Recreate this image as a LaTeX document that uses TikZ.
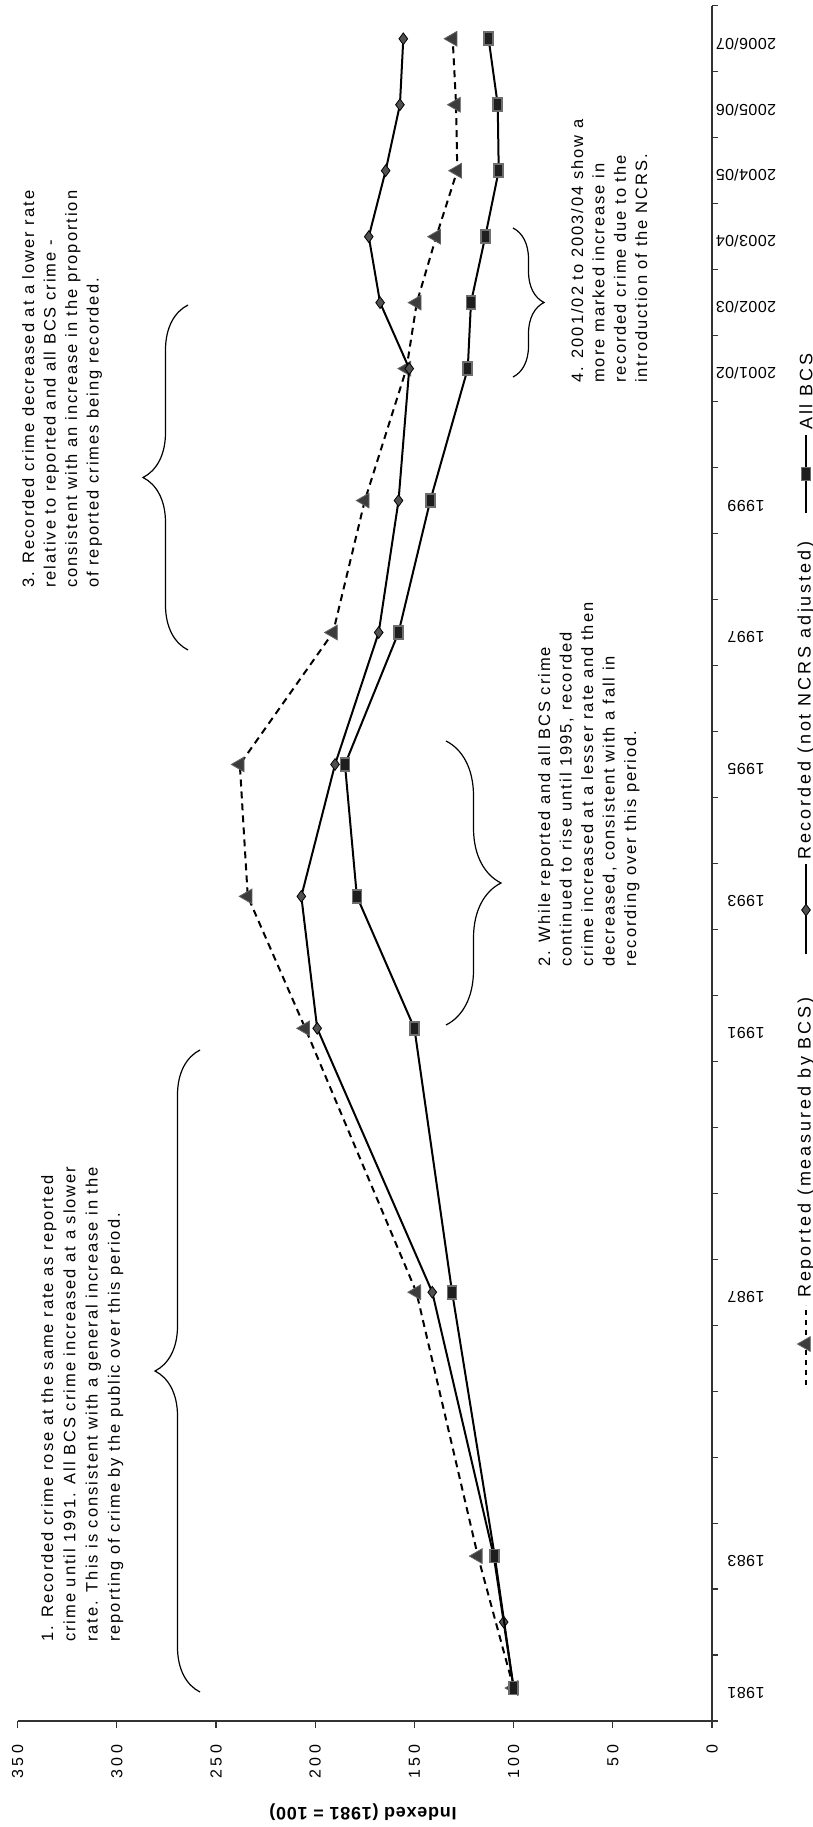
\documentclass[tikz,border=0pt]{standalone}
\usepackage{fontspec}
\setmainfont{Liberation Sans}
\newfontfamily\annfont[LetterSpace=12]{Liberation Sans}
\newfontfamily\legfont[LetterSpace=16]{Liberation Sans}
\newfontfamily\valfont[LetterSpace=25]{Liberation Sans}
\newfontfamily\yearfont[LetterSpace=3]{Liberation Sans}
\newfontfamily\titlefont[LetterSpace=4]{Liberation Sans}
\usetikzlibrary{decorations.pathreplacing,shapes.geometric}
\definecolor{axisgray}{HTML}{333333}
\definecolor{sqfill}{HTML}{1E1E1E}
\definecolor{sqedge}{HTML}{6E6E6E}
\definecolor{trifill}{HTML}{3C3C3C}
\definecolor{diafill}{HTML}{505050}
\tikzset{
  axisline/.style={draw=axisgray, line width=1.2pt},
  tickline/.style={draw=axisgray, line width=1.2pt},
  solidser/.style={draw=black, line width=2pt, line join=round},
  dashser/.style={draw=black, line width=2pt, dash pattern=on 7pt off 5pt},
  sqmark/.style={rectangle, minimum width=9pt, minimum height=13pt, inner sep=0pt, fill=sqfill, draw=sqedge, line width=1.6pt},
  trimark/.style={regular polygon, regular polygon sides=3, shape border rotate=90, minimum size=17pt, inner sep=0pt, fill=trifill, draw=trifill!80!white, line width=0.8pt},
  diamark/.style={diamond, minimum width=9pt, minimum height=12pt, inner sep=0pt, fill=diafill, draw=black, line width=0.8pt},
  annline/.style={rotate=90, anchor=base west, inner sep=0pt, font=\annfont\fontsize{16.5}{20}\selectfont},
  legtext/.style={rotate=90, anchor=west, inner sep=0pt, font=\legfont\fontsize{18}{21}\selectfont},
  yearlab/.style={rotate=180, inner sep=0pt, font=\yearfont\fontsize{16}{18}\selectfont},
  vallab/.style={rotate=90, anchor=east, inner sep=0pt, font=\valfont\fontsize{16}{18}\selectfont},
  bracedec/.style={draw=black, line width=1.2pt, decorate, decoration={brace, amplitude=#1}},
}
\begin{document}
\begin{tikzpicture}[x=1pt, y=-1pt]
\useasboundingbox[fill=white] (0,0) rectangle (813,1827);

% axes
\coordinate (corner) at (712,1721);
\coordinate (vleft) at (17.7,1721);
\coordinate (ytop) at (712,5.8);
\draw[axisline] (vleft) -- (corner) -- (ytop);
\foreach \v in {0,50,...,350} {
  \draw[tickline] ({712-1.984*\v},1721) -- ++(0,7);
  \node[vallab] (val\v) at ({712-1.984*\v},1744) {\v};
}
\foreach \i in {0,...,26} {
  \draw[tickline] (712,{1721-\i*65.97}) -- ++(6,0);
}
\foreach \i/\lab in {0/1981,2/1983,6/1987,10/1991,12/1993,14/1995,16/1997,18/1999,20/2001\slash 02,21/2002\slash 03,22/2003\slash 04,23/2004\slash 05,24/2005\slash 06,25/2006\slash 07} {
  \node[yearlab] (yr\i) at (746,{1721-(\i+0.5)*65.97+5}) {\lab};
}
\node[rotate=180, inner sep=0pt, font=\titlefont\bfseries\fontsize{18}{20}\selectfont] (ytitle) at (363,1812) {Indexed (1981 = 100)};

% data coordinates
\foreach \i/\v [count=\k] in {0/100,2/118,6/149,10/205,12/234,14/238,16/191,18/175,20/154,21/148.8,22/139,23/128.4,24/129,25/130.7}
  \coordinate (r\k) at ({712-1.984*\v},{1721-(\i+0.5)*65.97});
\foreach \i/\v [count=\k] in {0/100,1/105,2/110,6/141,10/199,12/207,14/190,16/168,18/158,20/152.6,21/167.3,22/173,23/164.5,24/157.3,25/155.6}
  \coordinate (c\k) at ({712-1.984*\v},{1721-(\i+0.5)*65.97});
\foreach \i/\v [count=\k] in {0/100,2/109.5,6/131,10/150,12/179,14/185,16/158,18/142,20/123.1,21/121.5,22/114.3,23/107.5,24/108,25/112.6}
  \coordinate (b\k) at ({712-1.984*\v},{1721-(\i+0.5)*65.97});

% reported
\draw[dashser] (r1) \foreach \k in {2,...,14} { -- (r\k) };
\foreach \k in {1,...,14} \node[trimark] (rm\k) at (r\k) {};
% recorded
\draw[solidser] (c1) \foreach \k in {2,...,15} { -- (c\k) };
\foreach \k in {1,...,15} \node[diamark] (cm\k) at (c\k) {};
% all BCS
\draw[solidser] (b1) \foreach \k in {2,...,14} { -- (b\k) };
\foreach \k in {1,...,14} \node[sqmark] (bm\k) at (b\k) {};

% annotations (one node per printed line)
\foreach \txt [count=\n] in {{1. Recorded crime rose at the same rate as reported},{crime  until 1991.  All BCS crime increased at a slower},{rate.  This is consistent with a general increase in the},{reporting of crime by the public over this period.}}
  \node[annline] (ta\n) at ({53+(\n-1)*22.3},1642) {\txt};
\foreach \txt [count=\n] in {{2. While reported and all BCS crime},{continued to rise until 1995, recorded},{crime increased at a lesser rate and then},{decreased, consistent with a fall in},{recording over this period.}}
  \node[annline] (tb\n) at ({550+(\n-1)*21.5},967) {\txt};
\foreach \txt [count=\n] in {{3. Recorded crime decreased at a lower rate},{relative to reported and all BCS crime -},{consistent with an increase in the proportion},{of reported crimes being recorded.}}
  \node[annline] (tc\n) at ({34+(\n-1)*21.5},588) {\txt};
\foreach \txt [count=\n] in {{4. 2001/02 to 2003/04 show a},{more marked increase in},{recorded crime due to the},{introduction of the NCRS.}}
  \node[annline] (td\n) at ({583+(\n-1)*21.4},383) {\txt};

% braces
\coordinate (b1s) at (200,1692); \coordinate (b1e) at (200,1050);
\draw[bracedec=45] (b1s) -- (b1e);
\coordinate (b2s) at (446,741); \coordinate (b2e) at (446,1025);
\draw[bracedec=55] (b2s) -- (b2e);
\coordinate (b3s) at (188,650); \coordinate (b3e) at (188,305);
\draw[bracedec=45] (b3s) -- (b3e);
\coordinate (b4s) at (513,228); \coordinate (b4e) at (513,377);
\draw[bracedec=31] (b4s) -- (b4e);

% legend
\coordinate (lr1) at (806,1385); \coordinate (lr2) at (806,1305);
\draw[dashser, line width=1.5pt, dash pattern=on 5pt off 5pt] (lr1) -- (lr2);
\node[trimark] (lrm) at (806,1344) {};
\node[legtext] (lrt) at (806,1298) {Reported (measured by BCS)};
\coordinate (lc1) at (806,954); \coordinate (lc2) at (806,864);
\draw[solidser, line width=1.5pt] (lc1) -- (lc2);
\node[diamark] (lcm) at (806,910) {};
\node[legtext] (lct) at (806,860) {Recorded (not NCRS adjusted)};
\coordinate (lb1) at (806,513); \coordinate (lb2) at (806,435);
\draw[solidser, line width=1.5pt] (lb1) -- (lb2);
\node[sqmark] (lbm) at (806,474) {};
\node[legtext] (lbt) at (806,430) {All BCS};
\end{tikzpicture}
\end{document}
